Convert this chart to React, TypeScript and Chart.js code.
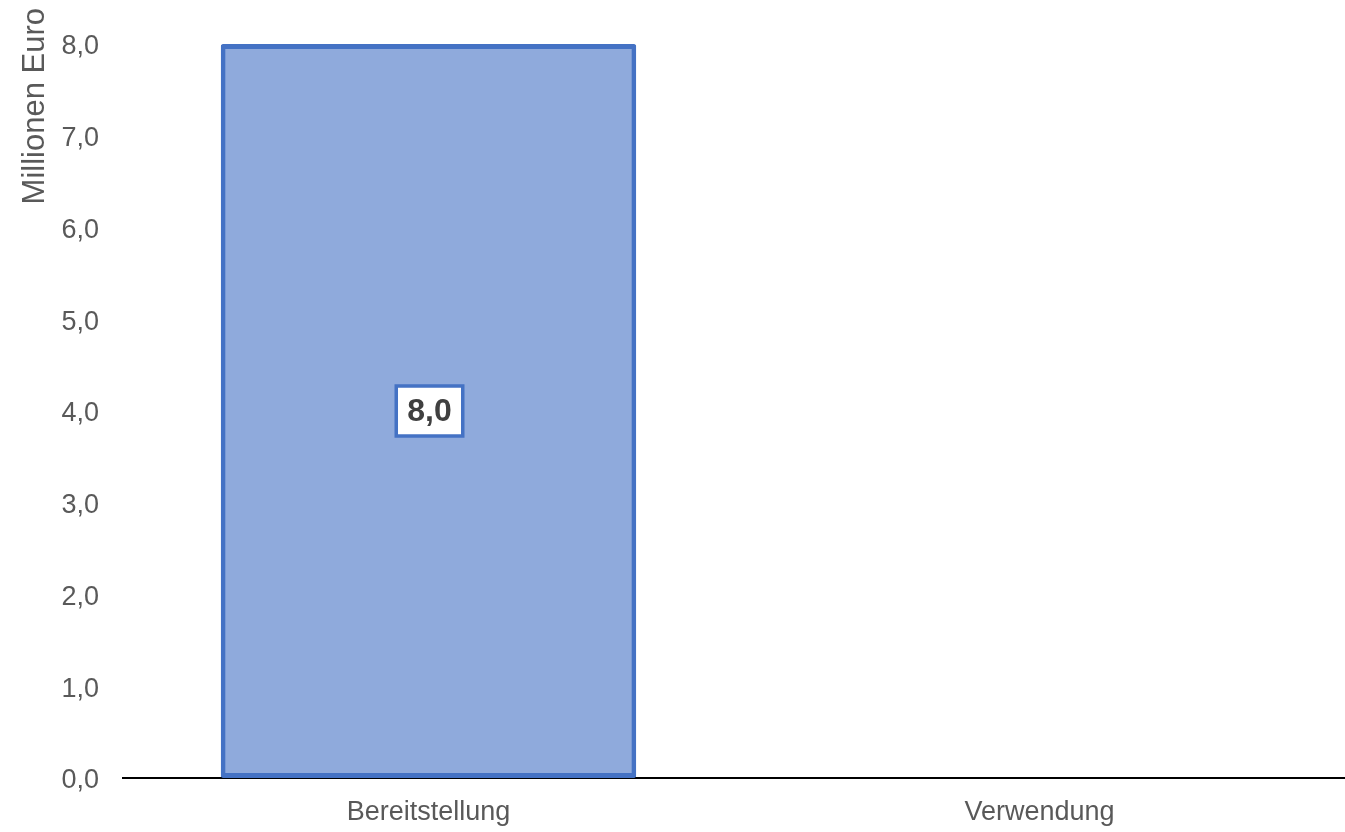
import React, { useEffect, useRef } from "react";
import { Chart, registerables } from "chart.js";

Chart.register(...registerables);

const categories = ["Bereitstellung", "Verwendung"];
const values: (number | null)[] = [8.0, null];
const yTitle = "Millionen Euro";
const yMin = 0;
const yMax = 8;
const yStep = 1;

const FONT = "'Liberation Sans', Arial, sans-serif";
const fmt = (v: number) => v.toFixed(1).replace(".", ",");

const yTitlePlugin = {
  id: "yTitlePlugin",
  afterDraw(chart: any) {
    const ctx = chart.ctx;
    ctx.save();
    ctx.translate(44, 8);
    ctx.rotate(-Math.PI / 2);
    ctx.font = `31px ${FONT}`;
    ctx.fillStyle = "#595959";
    ctx.textAlign = "right";
    ctx.textBaseline = "alphabetic";
    ctx.fillText(yTitle, 0, 0);
    ctx.restore();
  },
};

const labelPlugin = {
  id: "labelPlugin",
  afterDatasetsDraw(chart: any) {
    const ctx = chart.ctx;
    const meta = chart.getDatasetMeta(0);
    const ds = chart.data.datasets[0];
    meta.data.forEach((bar: any, i: number) => {
      const v = ds.data[i];
      if (v === null || v === undefined) return;
      const cx = bar.x + 1;
      const cy = (bar.y + bar.base) / 2;
      const text = fmt(v);
      ctx.save();
      ctx.font = `bold 32px ${FONT}`;
      const w = ctx.measureText(text).width;
      const bw = w + 22;
      const bh = 50;
      ctx.fillStyle = "#ffffff";
      ctx.fillRect(cx - bw / 2, cy - bh / 2, bw, bh);
      ctx.strokeStyle = "#4472C4";
      ctx.lineWidth = 3.5;
      ctx.strokeRect(cx - bw / 2, cy - bh / 2, bw, bh);
      ctx.fillStyle = "#404040";
      ctx.textAlign = "center";
      ctx.textBaseline = "middle";
      ctx.fillText(text, cx, cy + 1);
      ctx.restore();
    });
  },
};

export default function App() {
  const ref = useRef<HTMLCanvasElement>(null);
  useEffect(() => {
    if (!ref.current) return;
    const chart = new Chart(ref.current, {
      type: "bar",
      data: {
        labels: categories,
        datasets: [
          {
            data: values,
            backgroundColor: "#8FAADC",
            borderColor: "#4472C4",
            borderWidth: 5,
            borderSkipped: false,
            borderRadius: 2,
            categoryPercentage: 1,
            barPercentage: 0.68,
          },
        ],
      },
      options: {
        animation: false,
        responsive: false,
        maintainAspectRatio: false,
        layout: { padding: { top: 44, right: 0, bottom: 0, left: 0 } },
        plugins: {
          legend: { display: false },
          tooltip: { enabled: false },
        },
        scales: {
          x: {
            grid: { display: false, drawTicks: false },
            border: { display: true, color: "#000000", width: 2 },
            ticks: {
              color: "#595959",
              font: { family: FONT, size: 27 },
              padding: 18,
            },
            afterFit: (s: any) => {
              s.height = 54;
            },
          },
          y: {
            min: yMin,
            max: yMax,
            grid: { display: false, drawTicks: false },
            border: { display: false },
            ticks: {
              stepSize: yStep,
              color: "#595959",
              font: { family: FONT, size: 27 },
              padding: 24,
              labelOffset: 3,
              callback: (v: any) => fmt(Number(v)),
            },
            afterFit: (s: any) => {
              s.width = 123;
            },
          },
        },
      },
      plugins: [yTitlePlugin, labelPlugin],
    });
    return () => chart.destroy();
  }, []);
  return (
    <div style={{ position: "fixed", left: 0, top: 0, width: 1345, height: 832, background: "#fff" }}>
      <canvas ref={ref} width={1345} height={832} style={{ display: "block" }} />
    </div>
  );
}
